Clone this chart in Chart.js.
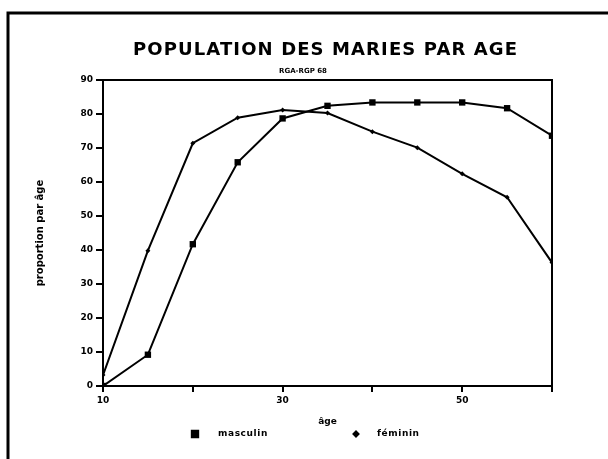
<!DOCTYPE html>
<html>
<head>
<meta charset="utf-8">
<script src="https://cdn.jsdelivr.net/npm/chart.js@4/dist/chart.umd.min.js"></script>
<style>
  html, body { margin: 0; padding: 0; background: #fff; }
  #wrap { width: 608px; height: 459px; }
</style>
</head>
<body>
<div id="wrap"><canvas id="grafico" width="608" height="459"></canvas></div>
<script>
// donnees
const ages = [10, 15, 20, 25, 30, 35, 40, 45, 50, 55, 60];
const masculin = [0, 9.2, 41.7, 65.8, 78.7, 82.4, 83.4, 83.4, 83.4, 81.7, 73.6];
const feminin = [3.2, 39.8, 71.4, 78.9, 81.2, 80.3, 74.8, 70.1, 62.4, 55.5, 36.3];
const xLabels = [10, 30, 50];

const titre = 'POPULATION DES MARIES PAR AGE';
const sousTitre = 'RGA-RGP 68';

Chart.defaults.color = '#000';
Chart.defaults.font.family = "'DejaVu Sans', sans-serif";

// cadre, titre et legende
const decor = {
  id: 'decor',
  afterDraw(chart) {
    const ctx = chart.ctx;
    const a = chart.chartArea;
    ctx.save();
    ctx.strokeStyle = '#000';
    ctx.lineWidth = 3;
    ctx.beginPath();
    ctx.moveTo(8, 459);
    ctx.lineTo(8, 13);
    ctx.lineTo(608, 13);
    ctx.stroke();

    ctx.lineWidth = 2;
    ctx.beginPath();
    ctx.moveTo(a.left, a.top);
    ctx.lineTo(a.right, a.top);
    ctx.lineTo(a.right, a.bottom + 6);
    ctx.stroke();

    ctx.fillStyle = '#000';
    ctx.textBaseline = 'middle';
    ctx.textAlign = 'left';
    ctx.font = "bold 18px 'DejaVu Sans'";
    const w0 = ctx.measureText(titre).width;
    ctx.letterSpacing = ((384 - w0) / (titre.length - 1)) + 'px';
    ctx.fillText(titre, 133, 50);
    ctx.letterSpacing = '0px';

    ctx.textAlign = 'center';
    ctx.font = "bold 7px 'DejaVu Sans'";
    ctx.fillText(sousTitre, 303, 71);

    const mx = [195, 356];
    const tx = [218, 377];
    ctx.font = "bold 9px 'DejaVu Sans'";
    ctx.textAlign = 'left';
    ctx.letterSpacing = '0.6px';
    chart.data.datasets.forEach((ds, i) => {
      Chart.helpers.drawPoint(ctx, {
        pointStyle: ds.pointStyle, radius: ds.pointRadius, rotation: 0, borderWidth: 1
      }, mx[i], 434);
      ctx.fillText(ds.label, tx[i], 434);
    });
    ctx.restore();
  }
};

const ctx = document.getElementById('grafico').getContext('2d');
new Chart(ctx, {
  type: 'line',
  data: {
    datasets: [{
      label: 'masculin',
      data: ages.map((a, i) => ({ x: a, y: masculin[i] })),
      borderColor: '#000',
      backgroundColor: '#000',
      borderWidth: 2,
      tension: 0,
      pointStyle: 'rect',
      pointRadius: 4.5,
      pointBorderWidth: 0
    }, {
      label: 'féminin',
      data: ages.map((a, i) => ({ x: a, y: feminin[i] })),
      borderColor: '#000',
      backgroundColor: '#000',
      borderWidth: 2,
      tension: 0,
      pointStyle: 'rectRot',
      pointRadius: 2.5,
      pointBorderWidth: 0
    }]
  },
  options: {
    responsive: false,
    animation: false,
    layout: { padding: { top: 80, right: 56, left: 0, bottom: 0 } },
    plugins: {
      legend: { display: false },
      tooltip: { enabled: false }
    },
    scales: {
      x: {
        type: 'linear',
        min: 10,
        max: 60,
        afterFit(scale) { scale.height = 73; },
        ticks: {
          stepSize: 10,
          maxRotation: 0,
          padding: 3,
          font: { size: 9, weight: 'bold' },
          callback: v => xLabels.includes(v) ? v : ''
        },
        grid: { drawOnChartArea: false, color: '#000', lineWidth: 2, tickLength: 6 },
        border: { color: '#000', width: 2 },
        title: {
          display: true,
          text: 'âge',
          font: { size: 9, weight: 'bold' },
          padding: { top: 0, bottom: 31.6 }
        }
      },
      y: {
        min: 0,
        max: 90,
        afterFit(scale) { scale.width = 103; },
        ticks: {
          stepSize: 10,
          padding: 3,
          font: { size: 9, weight: 'bold' }
        },
        grid: { drawOnChartArea: false, color: '#000', lineWidth: 2, tickLength: 7 },
        border: { color: '#000', width: 2 },
        title: {
          display: true,
          text: 'proportion par âge',
          font: { size: 10, weight: 'bold' },
          padding: { top: 34, bottom: 0 }
        }
      }
    }
  },
  plugins: [decor]
});
</script>
</body>
</html>
